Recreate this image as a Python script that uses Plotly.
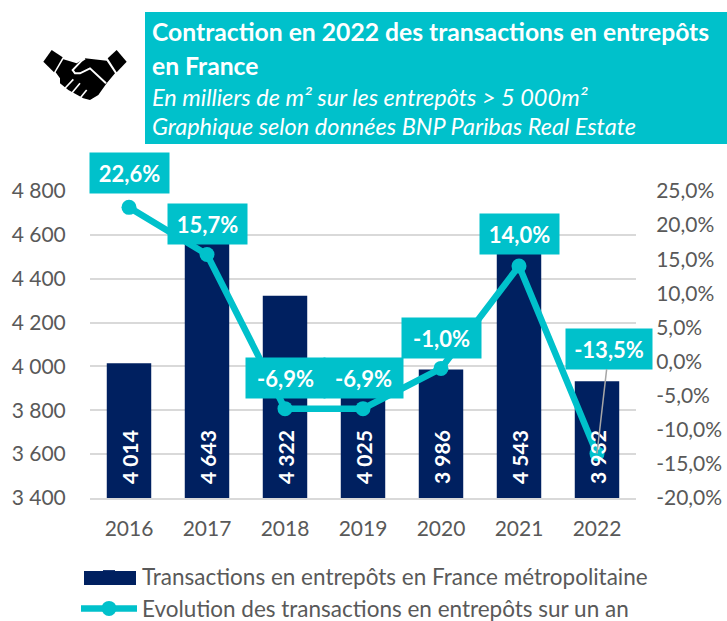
import plotly.graph_objects as go

W, H = 727, 621
FONT = "Lato"
GREY = "#595959"
TEAL = "#00C1CB"
NAVY = "#002060"

years = ["2016", "2017", "2018", "2019", "2020", "2021", "2022"]
transactions = [4014, 4643, 4322, 4025, 3986, 4543, 3932]
evolution = [22.6, 15.7, -6.9, -6.9, -1.0, 14.0, -13.5]
pct_ticks = [-20, -15, -10, -5, 0, 5, 10, 15, 20, 25]
bar_name = "Transactions en entrepôts en France métropolitaine"
line_name = "Evolution des transactions en entrepôts sur un an"
title_lines = [
    "<b>Contraction en 2022 des transactions en entrepôts</b>",
    "<b>en France</b>",
    "<i>En milliers de m² sur les entrepôts > 5 000m²</i>",
    "<i>Graphique selon données BNP Paribas Real Estate</i>",
]
title_rows_y = [31, 65, 97, 126]
label_shift_y = [34, 30, 31, 31, 30, 32]
AXIS_MIN = 3400


def px(x):
    return x / W


def py(y):
    return 1 - y / H


def pct(v):
    return f"{v:.1f}%".replace(".", ",")


def icon_path(points, close=True):
    d = "M" + " L".join(f"{px(35 + a / 3):.5f},{py(40 + b / 3):.5f}" for a, b in points)
    return d + (" Z" if close else "")


def icon_fill(points):
    return dict(type="path", xref="paper", yref="paper", path=icon_path(points),
                fillcolor="black", line=dict(width=0), layer="above")


def icon_stroke(points, width=1.6):
    return dict(type="path", xref="paper", yref="paper", path=icon_path(points, False),
                line=dict(color="white", width=width), layer="above")


fig = go.Figure()
fig.add_trace(go.Bar(
    x=years, y=transactions, name=bar_name, width=0.57,
    marker=dict(color=NAVY, line=dict(width=0)),
))
fig.add_trace(go.Scatter(
    x=years, y=evolution, name=line_name, yaxis="y2", mode="lines+markers",
    line=dict(color=TEAL, width=6.5), marker=dict(color=TEAL, size=15),
))

annotations = []
for i, val in enumerate(transactions):
    annotations.append(dict(
        x=i, y=AXIS_MIN, xref="x", yref="y", yanchor="bottom", yshift=12, showarrow=False,
        textangle=-90, text="<b>" + f"{val:,}".replace(",", " ") + "</b>",
        font=dict(family=FONT, size=21, color="white"),
    ))
for i, (val, dy) in enumerate(zip(evolution[:-1], label_shift_y)):
    annotations.append(dict(
        x=i, y=val, xref="x", yref="y2", yshift=dy, showarrow=False,
        text=f"<b>{pct(val)}</b>", width=77, height=38,
        bgcolor=TEAL, font=dict(family=FONT, size=22, color="white"),
    ))
annotations.append(dict(
    x=len(years) - 1, y=evolution[-1], xref="x", yref="y2", showarrow=True,
    ax=12, ay=-105, arrowhead=0, arrowwidth=1.5, arrowcolor="#A6A6A6",
    text=f"<b>{pct(evolution[-1])}</b>", width=84, height=38,
    bgcolor=TEAL, font=dict(family=FONT, size=22, color="white"),
))
for i, (txt, yy) in enumerate(zip(title_lines, title_rows_y)):
    annotations.append(dict(
        x=px(150), y=py(yy), xref="paper", yref="paper", xanchor="left", yanchor="middle",
        showarrow=False, text=txt,
        font=dict(family=FONT, size=24.7 if i < 2 else 23.5, color="white"),
    ))

shapes = [
    dict(type="rect", xref="paper", yref="paper", x0=px(145), x1=1, y0=py(144), y1=py(12),
         fillcolor=TEAL, line_width=0, layer="below"),
    # wide legend swatch for the bars
    dict(type="rect", xref="paper", yref="paper", x0=px(84), x1=px(136), y0=py(585), y1=py(571),
         fillcolor=NAVY, line_width=0, layer="above"),
    # handshake icon
    icon_fill([(25, 65), (50, 30), (83, 52), (57, 97)]),
    icon_fill([(275, 65), (245, 30), (218, 55), (245, 97)]),
    icon_fill([(62, 97), (85, 58), (125, 70), (150, 55), (215, 62), (240, 100), (215, 130),
               (190, 165), (165, 180), (145, 175), (100, 150), (75, 130), (75, 115)]),
    icon_stroke([(213, 130), (165, 85), (135, 100), (120, 100), (113, 90), (140, 62), (150, 55)], 2),
    icon_stroke([(90, 145), (115, 118)]),
    icon_stroke([(110, 160), (135, 130)]),
    icon_stroke([(135, 175), (155, 150)]),
]

fig.update_layout(
    width=W, height=H, margin=dict(l=0, r=0, t=0, b=0, autoexpand=False),
    paper_bgcolor="white", plot_bgcolor="white",
    separators=", ", font=dict(family=FONT, color=GREY, size=21),
    barmode="overlay", annotations=annotations, shapes=shapes,
    xaxis=dict(domain=[px(90), px(636)], type="category", range=[-0.5, 6.5],
               categoryorder="array", categoryarray=years, showgrid=False,
               linecolor="#D9D9D9", linewidth=2, ticks="outside", ticklen=11,
               tickcolor="rgba(0,0,0,0)", tickfont=dict(size=21, color=GREY)),
    yaxis=dict(domain=[py(498), py(191)], range=[AXIS_MIN, 4800], dtick=200, tickformat=",d",
               gridcolor="#D9D9D9", gridwidth=2, zeroline=False, ticks="outside", ticklen=19,
               tickcolor="rgba(0,0,0,0)", tickfont=dict(size=21, color=GREY)),
    yaxis2=dict(overlaying="y", side="right", range=[-20, 25], tickmode="array",
                tickvals=pct_ticks, ticktext=[pct(v) for v in pct_ticks],
                showgrid=False, zeroline=False, ticks="outside", ticklen=15,
                tickcolor="rgba(0,0,0,0)", tickfont=dict(size=21, color=GREY)),
    legend=dict(x=px(76), y=py(555), xanchor="left", yanchor="top", orientation="v",
                itemwidth=56, font=dict(family=FONT, size=22.5, color=GREY),
                bgcolor="rgba(0,0,0,0)", itemclick=False, itemdoubleclick=False),
    showlegend=True,
)
fig.write_html("out.html", config={"displayModeBar": False},
               post_script="document.body.style.margin='0';")
